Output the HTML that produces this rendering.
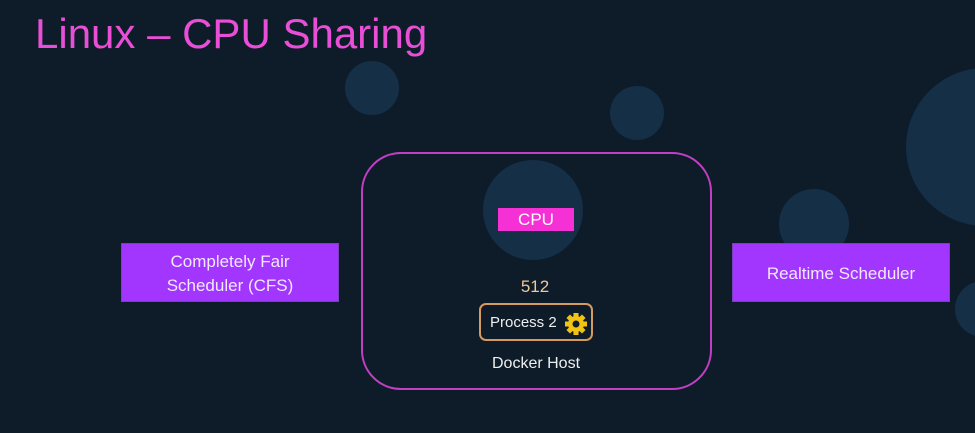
<!DOCTYPE html>
<html><head><meta charset="utf-8"><style>
body{margin:0;width:975px;height:433px;overflow:hidden;background:#0e1c2a;position:relative;font-family:"Liberation Sans",sans-serif}
.c{position:absolute;border-radius:50%;background:#152f47}
.t{position:absolute;left:35px;top:10px;font-size:42px;color:#e94fd6;letter-spacing:0px;white-space:nowrap}
.box{position:absolute;background:#a236ff;border:1px solid #7a3fc0;color:#f2e8ff;font-size:17px;display:flex;align-items:center;justify-content:center;text-align:center;line-height:24px;padding-top:2px;box-sizing:border-box}
</style></head><body>
<div class="c" style="left:345px;top:61px;width:54px;height:54px"></div>
<div class="c" style="left:610px;top:86px;width:54px;height:54px"></div>
<div class="c" style="left:483px;top:160px;width:100px;height:100px"></div>
<div class="c" style="left:779px;top:189px;width:70px;height:70px"></div>
<div class="c" style="left:906px;top:68px;width:158px;height:158px"></div>
<div class="c" style="left:955px;top:281px;width:56px;height:56px"></div>
<div class="t">Linux – CPU Sharing</div>
<div style="position:absolute;left:361px;top:152px;width:347px;height:234px;border:2px solid #c23fc4;border-radius:40px"></div>
<div style="position:absolute;left:498px;top:208px;width:76px;height:23px;background:#f531d6;color:#fff;font-size:17px;text-align:center;line-height:23px">CPU</div>
<div style="position:absolute;left:500px;top:277px;width:70px;text-align:center;color:#f1c89a;font-size:17px">512</div>
<div style="position:absolute;left:479px;top:303px;width:114px;height:38px;border:2px solid #d49a5e;border-radius:7px;box-sizing:border-box;color:#eee;font-size:15px;line-height:36px;padding-left:9px">Process 2</div>
<svg style="position:absolute;left:564px;top:312px" width="24" height="24" viewBox="-12 -12 24 24"><g fill="#f2c314"><circle r="8"/><g id="k"><rect x="-2.5" y="-11" width="5" height="22"/></g><use href="#k" transform="rotate(45)"/><use href="#k" transform="rotate(90)"/><use href="#k" transform="rotate(135)"/></g><circle r="3.5" fill="#0e1c2a"/></svg>
<div style="position:absolute;left:461px;top:355px;width:150px;text-align:center;color:#eee;font-size:16px">Docker Host</div>
<div class="box" style="left:121px;top:243px;width:218px;height:59px">Completely Fair<br>Scheduler (CFS)</div>
<div class="box" style="left:732px;top:243px;width:218px;height:59px">Realtime Scheduler</div>
</body></html>
